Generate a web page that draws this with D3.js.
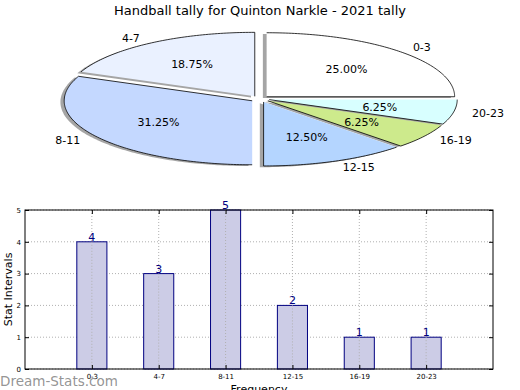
<!DOCTYPE html>
<html><head><meta charset="utf-8">
<script src="https://cdn.jsdelivr.net/npm/d3@7"></script>
<style>body{margin:0;background:#fff;} svg{display:block;font-family:"DejaVu Sans",sans-serif;}</style>
</head><body>
<script>
const title = "Handball tally for Quinton Narkle - 2021 tally";
const categories = ["0-3","4-7","8-11","12-15","16-19","20-23"];
const values = [4,3,5,2,1,1];
const pieColors = ["#ffffff","#eaf1ff","#c4d8ff","#b4d5ff","#cdea8c","#d8ffff"];
const yTicks = [0,1,2,3,4,5];
const yLabel = "Stat Intervals";
const xLabel = "Frequency";
const watermark = "Dream-Stats.com";

const W=520,H=390;
const svg=d3.select("body").append("svg").attr("width",W).attr("height",H);

svg.append("text").attr("x",260).attr("y",15).attr("text-anchor","middle")
  .attr("font-size",13).text(title);

// ---- Pie ----
const cx=260, cy=99, rx=188, ry=64, explode=0.05;
const total=d3.sum(values);
const pie=d3.pie().sort(null).startAngle(0).endAngle(2*Math.PI)(values);
const sx=d3.scaleLinear().domain([-1,1]).range([cx-rx,cx+rx]);
const sy=d3.scaleLinear().domain([-1,1]).range([cy+ry,cy-ry]);
function wedgePts(d,ox,oy){
  const pts=[[ox,oy]];
  const n=Math.max(8,Math.ceil((d.endAngle-d.startAngle)*60));
  for(let i=0;i<=n;i++){const t=d.startAngle+(d.endAngle-d.startAngle)*i/n;pts.push([ox+Math.cos(t),oy+Math.sin(t)]);}
  return pts;
}
const line=d3.line().x(p=>sx(p[0])).y(p=>sy(p[1]));
const slices=pie.map((d,i)=>{const m=(d.startAngle+d.endAngle)/2;return {d,i,m,ox:explode*Math.cos(m),oy:explode*Math.sin(m)};});
const gs=svg.append("g");
slices.forEach(s=>{
  gs.append("path").attr("d",line(wedgePts(s.d,s.ox-0.02,s.oy-0.02)))
    .attr("fill","#4c4c4c").attr("fill-opacity",0.5).attr("stroke","none");
});
const gp=svg.append("g");
slices.forEach(s=>{
  gp.append("path").attr("d",line(wedgePts(s.d,s.ox,s.oy)))
    .attr("fill",pieColors[s.i]).attr("stroke","#000").attr("stroke-width",0.8).attr("stroke-linejoin","round");
});
slices.forEach(s=>{
  const lx=s.ox+1.1*Math.cos(s.m), ly=s.oy+1.1*Math.sin(s.m);
  svg.append("text").attr("x",sx(lx)).attr("y",sy(ly)).attr("dy","0.35em")
    .attr("text-anchor",lx>0?"start":"end").attr("font-size",11).text(categories[s.i]);
  const px=s.ox+0.6*Math.cos(s.m), py=s.oy+0.6*Math.sin(s.m);
  svg.append("text").attr("x",sx(px)).attr("y",sy(py)).attr("dy","0.35em")
    .attr("text-anchor","middle").attr("font-size",11)
    .text((values[s.i]/total*100).toFixed(2)+"%");
});

// ---- Bar chart ----
const L=25,R=493,T=210,B=369;
const x=d3.scaleLinear().domain([-1,6]).range([L,R]);
const y=d3.scaleLinear().domain([0,5]).range([B,T]);
const bw=0.45;
const g=svg.append("g");
yTicks.forEach(t=>g.append("line").attr("x1",L).attr("x2",R).attr("y1",y(t)).attr("y2",y(t))
  .attr("stroke","#b0b0b0").attr("stroke-dasharray","1,2"));
categories.forEach((c,i)=>g.append("line").attr("x1",x(i)).attr("x2",x(i)).attr("y1",T).attr("y2",B)
  .attr("stroke","#b0b0b0").attr("stroke-dasharray","1,2"));
g.selectAll("rect.bar").data(values).enter().append("rect")
  .attr("x",(d,i)=>x(i-bw/2)).attr("width",x(bw)-x(0))
  .attr("y",d=>y(d)).attr("height",d=>y(0)-y(d))
  .attr("fill","#cccce6").attr("stroke","#000080").attr("stroke-width",1);
categories.forEach((c,i)=>g.append("line").attr("x1",x(i)).attr("x2",x(i)).attr("y1",y(values[i])).attr("y2",B)
  .attr("stroke","#b0b0b0").attr("stroke-dasharray","1,2"));
g.selectAll("text.val").data(values).enter().append("text")
  .attr("x",(d,i)=>x(i)).attr("y",d=>y(d)-1).attr("text-anchor","middle")
  .attr("font-size",11).attr("fill","#000080").text(d=>d);
g.append("rect").attr("x",L).attr("y",T).attr("width",R-L).attr("height",B-T)
  .attr("fill","none").attr("stroke","#000").attr("stroke-width",1);
const yAxis=d3.axisLeft(y).tickValues(yTicks).tickFormat(d3.format("d")).tickSize(-4).tickPadding(4);
const ga=svg.append("g").attr("transform",`translate(${L},0)`).call(yAxis);
ga.select(".domain").remove();
ga.selectAll("text").attr("font-size",7).attr("font-family","DejaVu Sans");
const yAxisR=d3.axisRight(y).tickValues(yTicks).tickSize(-4).tickFormat("");
const gar=svg.append("g").attr("transform",`translate(${R},0)`).call(yAxisR);
gar.select(".domain").remove();
const xAxis=d3.axisBottom(x).tickValues(d3.range(categories.length)).tickFormat(i=>categories[i]).tickSize(-4).tickPadding(5);
const gx=svg.append("g").attr("transform",`translate(0,${B})`).call(xAxis);
gx.select(".domain").remove();
gx.selectAll("text").attr("font-size",7).attr("font-family","DejaVu Sans");
const xAxisT=d3.axisTop(x).tickValues(d3.range(categories.length)).tickSize(-4).tickFormat("");
const gxt=svg.append("g").attr("transform",`translate(0,${T})`).call(xAxisT);
gxt.select(".domain").remove();

svg.append("text").attr("transform",`translate(12,${(T+B)/2}) rotate(-90)`).attr("text-anchor","middle")
  .attr("font-size",11).text(yLabel);
svg.append("text").attr("x",(L+R)/2).attr("y",393).attr("text-anchor","middle")
  .attr("font-size",11).text(xLabel);
svg.append("text").attr("x",0).attr("y",386).attr("font-size",13.5)
  .attr("fill","#888").attr("fill-opacity",0.9).text(watermark);
</script>
</body></html>
